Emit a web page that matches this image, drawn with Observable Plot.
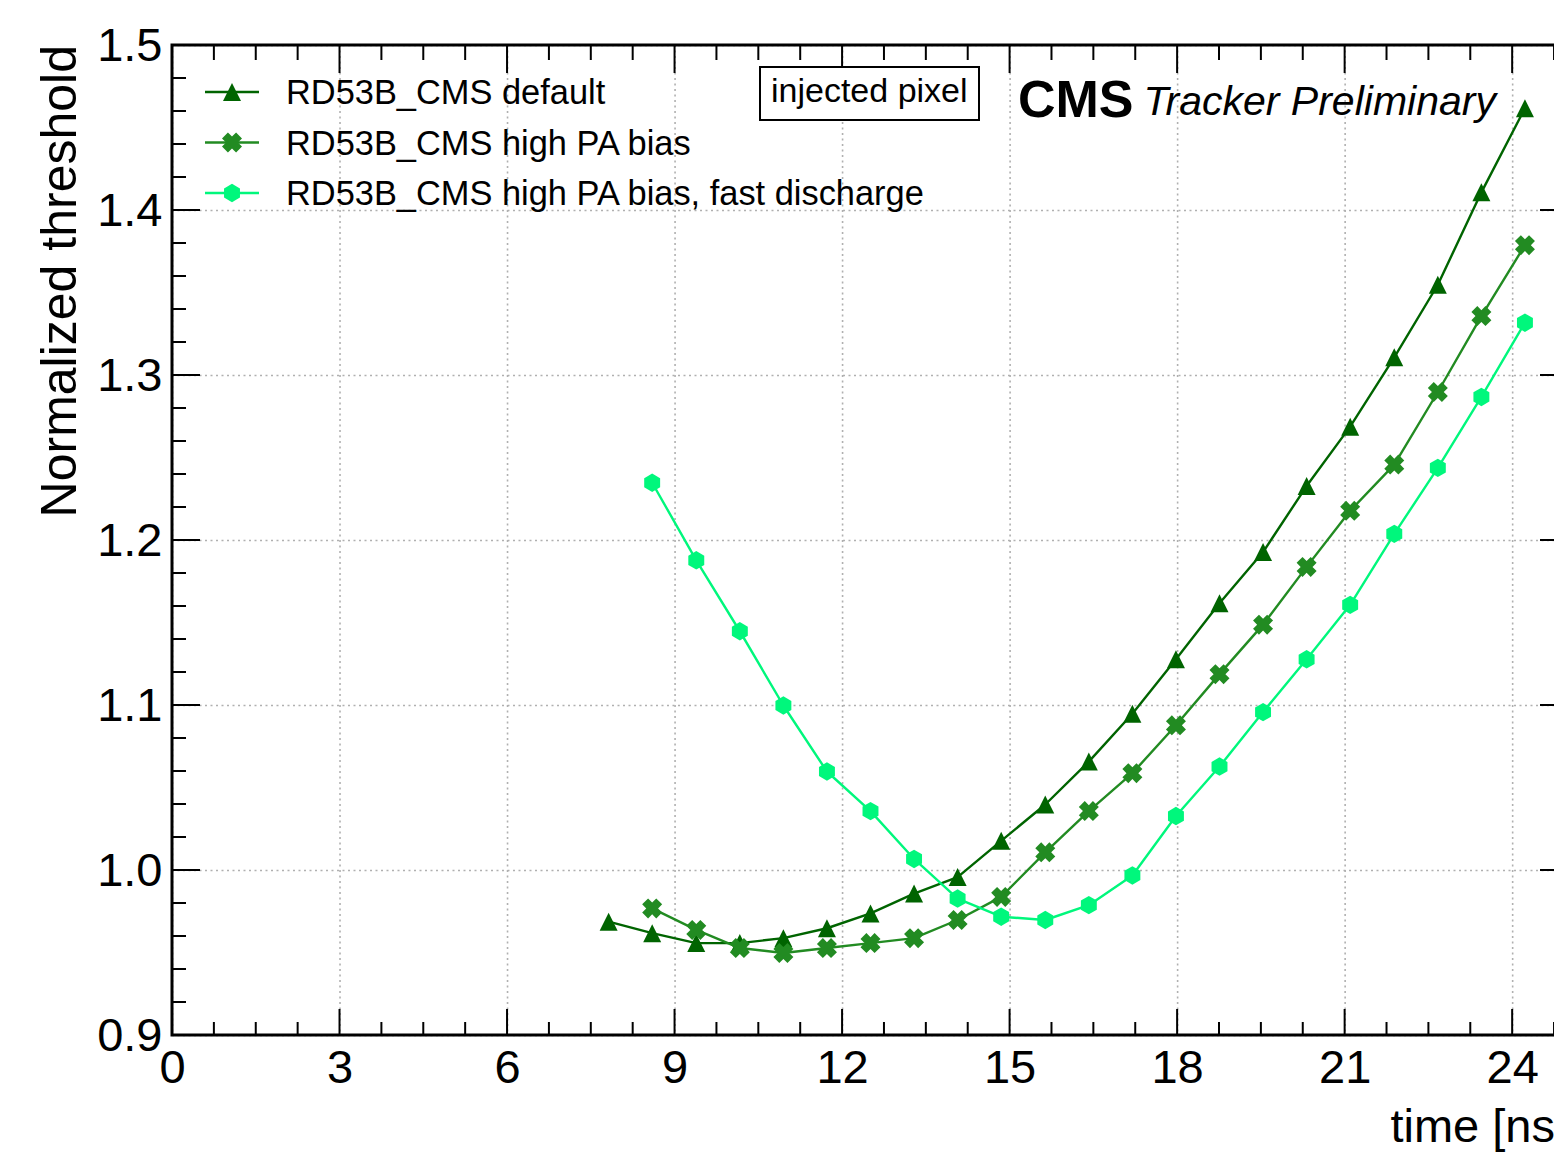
<!DOCTYPE html>
<html>
<head>
<meta charset="utf-8">
<script src="https://cdn.jsdelivr.net/npm/d3@7"></script>
<script src="https://cdn.jsdelivr.net/npm/@observablehq/plot@0.6"></script>
<style>
  html, body { margin: 0; padding: 0; background: #fff; overflow: hidden; }
  #chart { width: 1554px; height: 1152px; overflow: hidden; }
  #chart svg { display: block; max-width: none !important; width: 1600px !important; height: 1152px !important; }
</style>
</head>
<body>
<div id="chart"></div>
<script>
// Sampling times of the threshold scan [ns]
const timeDefault = [7.81, 8.59, 9.38, 10.16, 10.94, 11.72, 12.50, 13.28, 14.06, 14.84, 15.63,
                     16.41, 17.19, 17.97, 18.75, 19.53, 20.31, 21.09, 21.88, 22.66, 23.44, 24.22];
const timeHighPA = [8.59, 9.38, 10.16, 10.94, 11.72, 12.50, 13.28, 14.06, 14.84, 15.63,
                    16.41, 17.19, 17.97, 18.75, 19.53, 20.31, 21.09, 21.88, 22.66, 23.44, 24.22];

// Normalized threshold per configuration
const thrDefault = [0.969, 0.962, 0.956, 0.956, 0.959, 0.965, 0.974, 0.986, 0.996, 1.018, 1.040,
                    1.066, 1.095, 1.128, 1.162, 1.193, 1.233, 1.269, 1.311, 1.355, 1.411, 1.462];
const thrHighPA = [0.977, 0.964, 0.953, 0.950, 0.953, 0.956, 0.959, 0.970, 0.984, 1.011,
                   1.036, 1.059, 1.088, 1.119, 1.149, 1.184, 1.218, 1.246, 1.290, 1.336, 1.379];
const thrFastDischarge = [1.235, 1.188, 1.145, 1.100, 1.060, 1.036, 1.007, 0.983, 0.972, 0.970,
                          0.979, 0.997, 1.033, 1.063, 1.096, 1.128, 1.161, 1.204, 1.244, 1.287, 1.332];

const seriesNames = ["RD53B_CMS default", "RD53B_CMS high PA bias", "RD53B_CMS high PA bias, fast discharge"];
const seriesColors = ["#006400", "#228b22", "#00f77c"];

// Axis ticks
const xTicks = [0, 3, 6, 9, 12, 15, 18, 21, 24];
const yTicks = [0.9, 1.0, 1.1, 1.2, 1.3, 1.4, 1.5];
const xMinorStep = 0.75;
const yMinorStep = 0.02;

// Marker shapes (ROOT-like): bounding half-width equals the radius
const triangleUp = {
  draw(ctx, size) {
    const r = Math.sqrt(size / Math.PI);
    ctx.moveTo(0, -r); ctx.lineTo(r, r); ctx.lineTo(-r, r); ctx.closePath();
  }
};
const crossX = {
  draw(ctx, size) {
    const R = Math.sqrt(size / Math.PI), k = 0.42, c = Math.SQRT1_2;
    const L = R / (c * (1 + k)), w = k * L;
    const pts = [[w,-L],[w,-w],[L,-w],[L,w],[w,w],[w,L],[-w,L],[-w,w],[-L,w],[-L,-w],[-w,-w],[-w,-L]];
    pts.forEach(([x, y], i) => {
      const X = (x - y) * c, Y = (x + y) * c;
      i ? ctx.lineTo(X, Y) : ctx.moveTo(X, Y);
    });
    ctx.closePath();
  }
};
const hexagon = {
  draw(ctx, size) {
    const r = Math.sqrt(size / Math.PI);
    for (let i = 0; i < 6; ++i) {
      const a = -Math.PI / 2 + i * Math.PI / 3;
      const X = r * Math.cos(a), Y = r * Math.sin(a);
      i ? ctx.lineTo(X, Y) : ctx.moveTo(X, Y);
    }
    ctx.closePath();
  }
};
const seriesSymbols = [triangleUp, crossX, hexagon];
const seriesRadius = [9, 10, 9.2];

const series = [
  timeDefault.map((t, i) => ({time: t, thr: thrDefault[i]})),
  timeHighPA.map((t, i) => ({time: t, thr: thrHighPA[i]})),
  timeHighPA.map((t, i) => ({time: t, thr: thrFastDischarge[i]}))
];

const FONT = "'Liberation Sans', Arial, Helvetica, sans-serif";
const gridStyle = {stroke: "#b0b0b0", strokeOpacity: 1, strokeWidth: 1.6, strokeDasharray: "2,3.5"};

const dataMarks = series.flatMap((rows, s) => [
  Plot.line(rows, {x: "time", y: "thr", stroke: seriesColors[s], strokeWidth: 2.4}),
  Plot.dot(rows, {x: "time", y: "thr", symbol: seriesSymbols[s], r: seriesRadius[s],
                  fill: seriesColors[s], stroke: "none"})
]);

const chart = Plot.plot({
  width: 1600,
  height: 1152,
  marginLeft: 172,
  marginRight: 32,
  marginTop: 45,
  marginBottom: 117,
  style: {fontFamily: FONT, background: "white", color: "black", maxWidth: "none"},
  x: {domain: [0, 25], label: null},
  y: {domain: [0.9, 1.5], label: null},
  marks: [
    Plot.gridX(xTicks, gridStyle),
    Plot.gridY(yTicks, gridStyle),
    Plot.axisX(xTicks, {tickSize: 0, tickPadding: 14, fontSize: 47, label: null, tickFormat: d => String(d)}),
    Plot.axisY(yTicks, {tickSize: 0, tickPadding: 10, fontSize: 47, label: null, tickFormat: d => d.toFixed(1)}),
    ...dataMarks
  ]
});

document.getElementById("chart").appendChild(chart);

// Frame, inward ticks on all four sides, titles and legend
const svg = d3.select(chart);
const sx = chart.scale("x"), sy = chart.scale("y");
const [xd0, xd1] = sx.domain, [yd0, yd1] = sy.domain;
const X0 = sx.apply(xd0), X1 = sx.apply(xd1), Y0 = sy.apply(yd0), Y1 = sy.apply(yd1);

const deco = svg.append("g").attr("stroke", "black").attr("fill", "none");
const isMajor = (v, ticks) => ticks.some(t => Math.abs(t - v) < 1e-6);
for (const v of d3.range(xd0, xd1 + 1e-6, xMinorStep)) {
  const px = sx.apply(v), len = isMajor(v, xTicks) ? 26 : 13;
  deco.append("line").attr("x1", px).attr("x2", px).attr("y1", Y0).attr("y2", Y0 - len).attr("stroke-width", 2);
  deco.append("line").attr("x1", px).attr("x2", px).attr("y1", Y1).attr("y2", Y1 + len + 2).attr("stroke-width", 2);
}
for (const v of d3.range(yd0, yd1 + 1e-6, yMinorStep)) {
  const py = sy.apply(v), len = isMajor(v, yTicks) ? 28 : 14;
  deco.append("line").attr("x1", X0).attr("x2", X0 + len).attr("y1", py).attr("y2", py).attr("stroke-width", 2);
  deco.append("line").attr("x1", X1).attr("x2", X1 - len).attr("y1", py).attr("y2", py).attr("stroke-width", 2);
}
deco.append("rect").attr("x", X0).attr("y", Y1).attr("width", X1 - X0).attr("height", Y0 - Y1)
  .attr("stroke-width", 3);

const txt = (sel) => sel.attr("font-family", FONT).attr("fill", "black").attr("text-anchor", "start");

// Axis titles
txt(svg.append("text"))
  .attr("transform", `translate(76,${Y1}) rotate(-90)`)
  .attr("text-anchor", "end").attr("font-size", 50)
  .text("Normalized threshold");
txt(svg.append("text"))
  .attr("x", X1).attr("y", 1142).attr("text-anchor", "end").attr("font-size", 47)
  .text("time [ns]");

// Experiment label
const lab = txt(svg.append("text")).attr("x", 1018).attr("y", 117);
lab.append("tspan").attr("font-weight", "bold").attr("font-size", 52).text("CMS");
lab.append("tspan").attr("dx", 10).attr("dy", -2).attr("font-style", "italic").attr("font-size", 41)
  .text("Tracker Preliminary");

// Boxed note
svg.append("rect").attr("x", 760).attr("y", 67).attr("width", 219).attr("height", 53)
  .attr("fill", "white").attr("stroke", "black").attr("stroke-width", 2);
txt(svg.append("text")).attr("x", 771).attr("y", 102).attr("font-size", 34).text("injected pixel");

// Legend
const legend = svg.append("g");
seriesNames.forEach((name, s) => {
  const cy = 92 + s * 50.5;
  const row = legend.append("g");
  row.append("line").attr("x1", 205).attr("x2", 259).attr("y1", cy).attr("y2", cy)
    .attr("stroke", seriesColors[s]).attr("stroke-width", 2.4);
  row.append("path").attr("transform", `translate(232,${cy})`)
    .attr("d", d3.symbol(seriesSymbols[s], seriesRadius[s] * seriesRadius[s] * Math.PI)())
    .attr("fill", seriesColors[s]);
  txt(row.append("text")).attr("x", 286).attr("y", cy).attr("dy", "0.36em").attr("font-size", 34.4).text(name);
});
</script>
</body>
</html>
